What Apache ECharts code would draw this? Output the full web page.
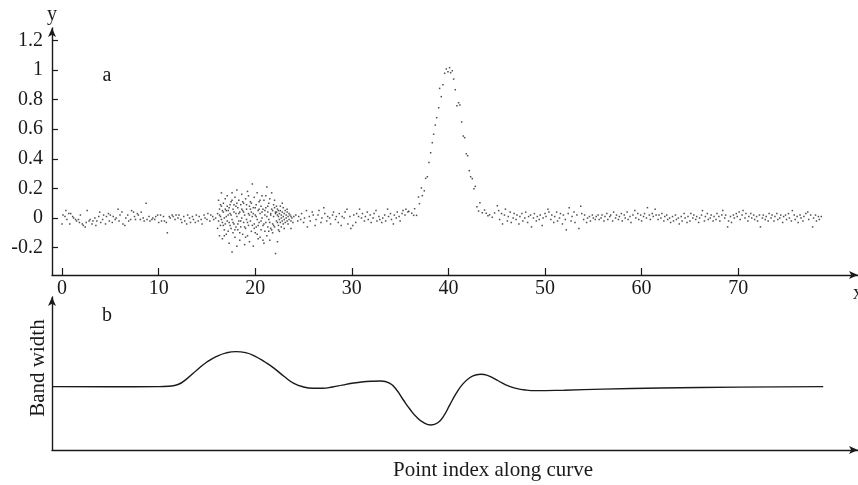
<!DOCTYPE html>
<html>
<head>
<meta charset="utf-8">
<script src="https://cdn.jsdelivr.net/npm/echarts@6/dist/echarts.min.js"></script>
<style>
  html, body { margin: 0; padding: 0; background: #fff; }
  #chart { width: 858px; height: 485px; }
</style>
</head>
<body>
<div id="chart"></div>
<script>
// Sampled points along the curve: [point index, y]
const flatLeft = [
  [0.0,-0.04],[0.1,0.02],[0.3,0.01],[0.4,0.05],[0.5,-0.01],[0.7,0.03],[0.8,-0.04],[0.9,0.03],[1.1,0.01],[1.2,0.00],
  [1.4,-0.01],[1.5,-0.02],[1.7,-0.01],[1.8,-0.03],[1.9,0.02],[2.1,-0.04],[2.2,-0.05],[2.4,-0.06],[2.5,-0.03],[2.6,0.05],
  [2.8,-0.02],[2.9,-0.01],[3.1,-0.04],[3.2,-0.02],[3.4,0.00],[3.5,-0.05],[3.6,-0.02],[3.8,0.01],[3.9,0.04],[4.0,-0.03],
  [4.2,-0.01],[4.3,0.02],[4.5,-0.04],[4.6,0.01],[4.8,0.03],[4.9,-0.02],[5.0,0.02],[5.2,-0.03],[5.3,0.01],[5.5,-0.01],
  [5.6,0.00],[5.8,0.06],[5.9,-0.02],[6.0,0.02],[6.2,0.04],[6.3,-0.04],[6.5,-0.05],[6.6,0.00],[6.8,0.02],[6.9,-0.02],
  [7.1,-0.01],[7.2,0.05],[7.4,0.04],[7.5,0.01],[7.6,-0.01],[7.8,0.03],[7.9,0.02],[8.1,-0.01],[8.2,0.04],[8.4,0.00],
  [8.5,-0.02],[8.7,0.10],[8.8,-0.01],[9.0,0.01],[9.1,-0.02],[9.3,-0.01],[9.4,0.00],[9.6,-0.01],[9.7,0.01],[9.9,0.02],
  [10.0,-0.03],[10.2,0.02],[10.3,-0.02],[10.5,0.01],[10.6,-0.02],[10.8,-0.03],[10.9,-0.10],[11.1,0.01],[11.2,0.00],[11.4,0.02],
  [11.5,0.01],[11.7,-0.01],[11.8,0.02],[12.0,0.00],[12.1,0.02],[12.3,-0.01],[12.4,-0.03],[12.6,0.01],[12.7,-0.02],[12.9,-0.04],
  [13.0,0.02],[13.2,0.00],[13.3,-0.03],[13.5,0.01],[13.6,-0.01],[13.8,-0.03],[13.9,0.02],[14.1,-0.02],[14.2,0.01],[14.4,-0.01],
  [14.5,-0.04],[14.7,0.02],[14.8,0.00],[15.0,-0.01],[15.1,0.03],[15.3,-0.02],[15.4,0.02],[15.6,0.01],[15.7,-0.01],[15.9,0.00]
];

const cloudWide = [
  [16.1,0.03],[16.1,-0.07],[16.2,0.12],[16.2,-0.02],[16.3,0.06],[16.3,-0.12],[16.4,0.01],[16.4,-0.05],[16.5,0.17],[16.5,0.08],
  [16.6,-0.03],[16.6,-0.14],[16.7,0.04],[16.7,0.10],[16.8,-0.08],[16.8,0.00],[16.9,0.13],[16.9,-0.04],[17.0,0.05],[17.0,-0.11],
  [17.1,-0.02],[17.1,0.15],[17.2,0.02],[17.2,-0.09],[17.3,0.07],[17.3,-0.17],[17.4,0.03],[17.4,-0.05],[17.5,0.11],[17.5,-0.07],
  [17.6,0.17],[17.6,-0.01],[17.6,-0.23],[17.7,0.06],[17.7,-0.10],[17.8,0.09],[17.8,-0.04],[17.9,-0.13],[17.9,0.14],[18.0,0.03],
  [18.0,-0.06],[18.1,0.19],[18.1,-0.19],[18.1,0.01],[18.2,-0.08],[18.2,0.07],[18.3,0.12],[18.3,-0.02],[18.4,-0.15],[18.4,0.04],
  [18.5,0.09],[18.5,-0.06],[18.6,0.00],[18.6,0.16],[18.7,-0.11],[18.7,0.05],[18.8,-0.03],[18.8,0.10],[18.9,-0.18],[18.9,0.02],
  [19.0,0.13],[19.0,-0.07],[19.1,0.06],[19.1,-0.01],[19.2,-0.12],[19.2,0.18],[19.3,0.03],[19.3,-0.05],[19.4,0.08],[19.4,-0.16],
  [19.5,0.11],[19.5,-0.02],[19.6,0.04],[19.6,-0.09],[19.7,0.23],[19.7,0.01],[19.8,-0.19],[19.8,0.07],[19.9,-0.04],[19.9,0.14],
  [20.0,0.02],[20.0,-0.10],[20.1,0.09],[20.1,-0.06],[20.2,0.17],[20.2,-0.01],[20.3,-0.14],[20.3,0.05],[20.4,0.11],[20.4,-0.03],
  [20.5,-0.13],[20.5,0.03],[20.6,0.08],[20.6,-0.08],[20.7,0.15],[20.7,0.00],[20.8,-0.05],[20.8,0.06],[20.9,-0.17],[20.9,0.12],
  [21.0,0.02],[21.0,-0.09],[21.1,0.07],[21.1,-0.03],[21.2,0.21],[21.2,-0.12],[21.3,0.04],[21.3,-0.06],[21.4,0.10],[21.4,-0.01],
  [21.5,-0.15],[21.5,0.13],[21.6,0.03],[21.6,-0.07],[21.7,0.17],[21.7,0.06],[21.8,-0.04],[21.8,-0.10],[21.9,0.09],[21.9,0.01],
  [22.0,-0.06],[22.0,0.12],[22.1,-0.24],[22.1,0.04],[22.2,-0.02],[22.2,0.08],[22.3,-0.16],[22.3,0.02],[22.4,0.05],[22.4,-0.08]
];

const cloudCore = [
  [16.3,0.02],[16.5,-0.01],[16.7,-0.05],[16.9,0.06],[17.0,0.01],[17.2,0.05],[17.4,0.09],[17.5,0.02],[17.7,-0.03],[17.8,0.04],
  [18.0,0.08],[18.2,-0.04],[18.3,0.03],[18.5,-0.02],[18.6,0.06],[18.8,0.04],[18.9,-0.06],[19.1,0.09],[19.2,-0.03],[19.4,0.02],
  [19.5,0.06],[19.7,-0.05],[19.8,0.03],[20.0,0.07],[20.1,0.01],[20.3,-0.05],[20.4,0.06],[20.6,-0.02],[20.7,0.04],[20.9,-0.04],
  [21.0,0.05],[21.2,0.01],[21.3,0.08],[21.5,-0.03],[21.6,0.02],[21.8,0.05],[21.9,-0.05],[22.1,0.03],
  [16.4,0.09],[16.6,0.05],[16.8,-0.12],[17.1,0.08],[17.3,-0.03],[17.6,0.12],[17.9,-0.08],[18.1,0.10],[18.4,-0.10],[18.7,0.11],
  [19.0,-0.13],[19.3,0.15],[19.6,0.10],[19.9,-0.07],[20.2,-0.11],[20.5,0.12],[20.8,-0.15],[21.1,0.15],[21.4,-0.09],[21.7,-0.08],[22.0,0.07]
];

const cloudTail = [
  [22.2,0.04],[22.3,-0.03],[22.3,0.06],[22.4,0.01],[22.4,-0.05],[22.5,0.03],[22.5,-0.01],[22.6,0.05],[22.6,-0.03],[22.7,0.02],
  [22.7,0.00],[22.7,-0.06],[22.8,0.04],[22.8,-0.02],[22.9,0.07],[22.9,0.01],[22.9,-0.04],[23.0,0.03],[23.0,-0.01],[23.1,0.05],
  [23.1,-0.03],[23.2,0.02],[23.2,0.00],[23.3,-0.02],[23.3,0.04],[23.4,0.01],[23.4,-0.04],[23.5,0.03],[23.5,-0.01],[23.6,0.02],
  [23.7,-0.02],[23.7,0.01],[23.8,0.00],[23.9,-0.03],[24.0,0.01],[22.6,0.08],[23.0,-0.07],[22.8,0.10],[23.3,0.06],[22.5,-0.09],
  [23.7,-0.07]
];

const flatMiddle = [
  [24.2,0.02],[24.4,-0.02],[24.5,0.01],[24.7,-0.01],[24.8,0.03],[25.0,-0.03],[25.1,0.00],[25.3,0.05],[25.4,-0.06],[25.6,0.01],
  [25.7,-0.02],[25.9,0.04],[26.0,0.02],[26.2,-0.05],[26.3,-0.01],[26.5,0.02],[26.6,0.05],[26.8,-0.03],[26.9,0.00],[27.1,0.07],
  [27.2,0.03],[27.4,-0.02],[27.5,0.01],[27.7,0.00],[27.8,-0.04],[28.0,0.02],[28.1,0.04],[28.3,-0.01],[28.4,0.01],[28.6,-0.03],
  [28.7,0.03],[28.9,-0.05],[29.0,0.01],[29.2,0.00],[29.3,0.04],[29.5,0.06],[29.6,-0.04],[29.8,0.01],[29.9,-0.07],[30.1,-0.05],
  [30.2,0.02],[30.4,-0.03],[30.5,0.03],[30.7,0.01],[30.8,0.06],[31.0,0.00],[31.1,0.03],[31.3,-0.02],[31.4,0.01],[31.6,0.04],
  [31.7,-0.01],[31.9,0.02],[32.0,-0.03],[32.2,0.00],[32.3,0.03],[32.5,0.05],[32.6,-0.02],[32.8,0.01],[32.9,-0.01],[33.1,-0.03],
  [33.2,0.00],[33.4,0.02],[33.5,-0.02],[33.7,0.06],[33.8,0.01],[34.0,0.03],[34.1,-0.01],[34.3,-0.04],[34.4,0.02],[34.6,0.00],
  [34.7,0.04],[34.9,0.01],[35.0,-0.02],[35.2,0.03],[35.3,0.05],[35.5,0.02],[35.6,0.06],[35.8,0.04]
];

const peak = [
  [35.9,0.045],[36.2,0.032],[36.4,0.018],[36.5,0.063],[36.7,0.018],[36.9,0.142],[37.0,0.097],[37.2,0.203],[37.3,0.151],[37.5,0.184],
  [37.64,0.268],[37.82,0.279],[37.98,0.376],[38.16,0.441],[38.33,0.509],[38.47,0.566],[38.64,0.628],[38.78,0.678],[38.99,0.745],[39.09,0.876],
  [39.26,0.820],[39.43,0.901],[39.61,0.978],[39.78,1.007],[39.95,0.989],[40.12,1.016],[40.23,0.982],[40.40,0.995],[40.54,0.939],[40.71,0.867],
  [40.88,0.759],[41.05,0.779],[41.19,0.764],[41.37,0.649],[41.54,0.554],[41.68,0.543],[41.85,0.434],[41.99,0.421],[42.16,0.320],[42.30,0.279],
  [42.47,0.266],[42.64,0.198],[42.78,0.214],[42.95,0.076],[43.12,0.047],[43.26,0.103],[43.50,0.036],[43.74,0.054],[43.91,0.032],[44.09,0.016],
  [44.26,0.022],[44.54,0.005],[44.78,0.034],[45.06,0.083]
];

const flatRight = [
  [45.2,0.05],[45.3,-0.01],[45.5,0.03],[45.6,-0.04],[45.8,0.02],[45.9,0.06],[46.1,-0.02],[46.2,0.01],[46.4,0.04],[46.5,-0.03],
  [46.7,0.00],[46.8,0.03],[47.0,-0.01],[47.1,0.02],[47.3,-0.04],[47.4,0.01],[47.6,0.03],[47.7,-0.02],[47.9,0.00],[48.0,0.04],
  [48.2,-0.03],[48.3,0.01],[48.5,0.02],[48.6,-0.06],[48.8,0.00],[48.9,0.03],[49.1,-0.02],[49.2,0.01],[49.4,-0.01],[49.5,0.02],
  [49.7,-0.05],[49.8,0.00],[50.0,0.03],[50.1,0.01],[50.3,0.06],[50.4,0.04],[50.6,-0.01],[50.7,0.02],[50.9,-0.03],[51.0,0.01],
  [51.2,0.04],[51.3,-0.02],[51.5,0.00],[51.6,0.03],[51.8,-0.04],[51.9,0.02],[52.1,-0.01],[52.2,-0.08],[52.4,0.03],[52.5,0.07],
  [52.7,-0.02],[52.8,0.01],[53.0,0.04],[53.1,-0.03],[53.3,0.02],[53.5,-0.07],[53.7,0.08],[53.8,0.03],[54.0,-0.01],[54.1,0.02],
  [54.3,-0.03],[54.4,0.00],[54.6,0.01],[54.7,-0.02],[54.9,0.02],[55.0,0.00],[55.2,-0.01],[55.3,0.01],[55.5,0.02],[55.6,-0.01],
  [55.8,0.00],[55.9,0.02],[56.1,-0.02],[56.2,0.01],[56.4,0.03],[56.5,-0.01],[56.7,0.01],[56.8,0.02],[57.0,-0.02],[57.1,0.04],
  [57.3,0.00],[57.4,0.02],[57.6,-0.01],[57.7,0.01],[57.9,0.03],[58.0,-0.02],[58.2,0.02],[58.3,0.00],[58.5,0.04],[58.6,-0.01],
  [58.8,0.01],[58.9,-0.03],[59.1,0.02],[59.3,0.05],[59.4,0.00],[59.6,0.03],[59.7,-0.01],[59.9,0.02],[60.0,-0.02],[60.2,0.01],
  [60.3,0.03],[60.5,0.00],[60.6,0.07],[60.8,0.02],[60.9,-0.01],[61.1,0.03],[61.2,0.01],[61.4,0.06],[61.5,0.02],[61.7,-0.01],
  [61.8,0.02],[62.0,0.00],[62.1,0.03],[62.3,-0.02],[62.4,0.01],[62.6,0.02],[62.7,-0.01],[62.9,0.00],[63.0,-0.03],[63.2,0.01],
  [63.3,-0.02],[63.5,0.02],[63.6,-0.01],[63.8,0.00],[63.9,-0.04],[64.1,0.01],[64.2,-0.02],[64.4,0.03],[64.5,0.00],[64.7,-0.03],
  [64.8,0.01],[65.0,-0.02],[65.1,0.03],[65.3,0.00],[65.4,0.02],[65.6,-0.01],[65.7,0.01],[65.9,-0.03],[66.0,0.00],[66.2,0.02],
  [66.3,0.05],[66.5,-0.02],[66.6,0.01],[66.8,0.03],[66.9,-0.01],[67.1,0.00],[67.2,0.02],[67.4,-0.02],[67.5,0.01],[67.7,-0.01],
  [67.8,0.03],[68.0,0.01],[68.1,-0.02],[68.3,0.02],[68.4,0.05],[68.6,0.00],[68.7,0.02],[68.9,-0.06],[69.0,-0.02],[69.2,0.01],
  [69.3,-0.03],[69.5,0.02],[69.6,0.00],[69.8,0.03],[69.9,0.01],[70.1,0.04],[70.2,-0.01],[70.4,0.02],[70.5,0.05],[70.7,0.00],
  [70.8,0.03],[71.0,-0.02],[71.1,0.01],[71.3,0.03],[71.4,0.00],[71.6,0.02],[71.7,-0.01],[71.9,0.01],[72.0,-0.02],[72.2,0.02],
  [72.3,-0.06],[72.5,0.00],[72.6,0.02],[72.8,-0.01],[72.9,0.01],[73.1,-0.02],[73.2,0.03],[73.4,0.00],[73.5,0.02],[73.7,-0.02],
  [73.8,0.01],[74.0,0.03],[74.1,-0.01],[74.3,0.00],[74.4,0.02],[74.6,-0.03],[74.7,0.01],[74.9,0.02],[75.0,-0.01],[75.2,0.03],
  [75.3,0.00],[75.5,-0.02],[75.6,0.05],[75.8,0.02],[75.9,-0.01],[76.1,0.01],[76.2,-0.03],[76.4,0.02],[76.5,0.00],[76.7,-0.02],
  [76.8,0.01],[77.0,0.03],[77.2,0.04],[77.3,-0.01],[77.5,0.02],[77.7,-0.06],[77.8,0.00],[78.0,0.02],[78.1,-0.02],[78.3,0.01],
  [78.4,-0.01],[78.6,0.01]
];

// Band width along the curve
const bandIndex = [-1.0, 5, 10, 11, 12, 13, 14, 15, 16, 17, 18, 19, 20, 21, 22, 23, 24, 25, 26, 27, 28, 29, 30, 31, 32, 33,
  33.9, 34.6, 35.3, 36.0, 36.7, 37.4, 38.2, 38.9, 39.5, 40.1, 40.8, 41.5, 42.2, 42.8, 43.4, 44.1, 44.8, 45.5, 46.2, 47.0,
  48.0, 49.0, 52.0, 56, 62, 70, 78.8];
const bandWidth = [0.414, 0.413, 0.414, 0.417, 0.428, 0.47, 0.525, 0.575, 0.612, 0.635, 0.643, 0.636, 0.612, 0.575, 0.532, 0.48,
  0.436, 0.412, 0.404, 0.404, 0.412, 0.424, 0.436, 0.444, 0.449, 0.451,
  0.437, 0.395, 0.33, 0.268, 0.215, 0.18, 0.163, 0.178, 0.222, 0.29, 0.37, 0.432, 0.472, 0.49, 0.495, 0.486, 0.465, 0.44, 0.419, 0.403,
  0.392, 0.388, 0.391, 0.398, 0.405, 0.411, 0.414];

// Tick values shown on the upper panel
const xTicks = [0, 10, 20, 30, 40, 50, 60, 70];
const yTicks = [-0.2, 0, 0.2, 0.4, 0.6, 0.8, 1, 1.2];

const FONT = '"Liberation Serif", "Times New Roman", serif';
const INK = '#1a1a1a';

const points = [].concat(flatLeft, cloudWide, cloudCore, cloudTail, flatMiddle, peak, flatRight);
const bandLine = bandIndex.map((x, i) => [x, bandWidth[i]]);

const axisLineStyle = { color: INK, width: 1.4 };

const chart = echarts.init(document.getElementById('chart'), null, { renderer: 'canvas' });
chart.setOption({
  animation: false,
  backgroundColor: '#fff',
  grid: [
    { left: 52, right: 0, top: 28, bottom: 210 },
    { left: 52, right: 0, top: 297, bottom: 35 }
  ],
  xAxis: [
    {
      gridIndex: 0, type: 'value', min: -1.04, max: 82.4,
      axisLine: { onZero: false, lineStyle: axisLineStyle, symbol: ['none', 'arrow'], symbolSize: [6, 9] },
      axisTick: { inside: true, length: 7, lineStyle: { color: INK, width: 1.2 }, customValues: xTicks },
      axisLabel: { customValues: xTicks, color: INK, fontFamily: FONT, fontSize: 20, margin: 4 },
      splitLine: { show: false }
    },
    {
      gridIndex: 1, type: 'value', min: -1.04, max: 82.4,
      axisLine: { onZero: false, lineStyle: axisLineStyle, symbol: ['none', 'arrow'], symbolSize: [6, 9] },
      axisTick: { show: false }, axisLabel: { show: false }, splitLine: { show: false }
    }
  ],
  yAxis: [
    {
      gridIndex: 0, type: 'value', min: -0.385, max: 1.284,
      axisLine: { show: true, onZero: false, lineStyle: axisLineStyle, symbol: ['none', 'arrow'], symbolSize: [6, 9] },
      axisTick: { show: true, inside: true, length: 6, lineStyle: { color: INK, width: 1.2 }, customValues: yTicks },
      axisLabel: { customValues: yTicks, color: INK, fontFamily: FONT, fontSize: 20, margin: 9 },
      splitLine: { show: false }
    },
    {
      gridIndex: 1, type: 'value', min: 0, max: 1,
      axisLine: { show: true, onZero: false, lineStyle: axisLineStyle, symbol: ['none', 'arrow'], symbolSize: [6, 9] },
      axisTick: { show: false }, axisLabel: { show: false }, splitLine: { show: false }
    }
  ],
  graphic: [
    { type: 'text', x: 52, y: 15, style: { text: 'y', font: '20px ' + FONT, fill: INK, textAlign: 'center', textVerticalAlign: 'middle' } },
    { type: 'text', x: 853, y: 294, style: { text: 'x', font: '20px ' + FONT, fill: INK, textAlign: 'left', textVerticalAlign: 'middle' } },
    { type: 'text', x: 107, y: 76, style: { text: 'a', font: '20px ' + FONT, fill: INK, textAlign: 'center', textVerticalAlign: 'middle' } },
    { type: 'text', x: 107, y: 316, style: { text: 'b', font: '20px ' + FONT, fill: INK, textAlign: 'center', textVerticalAlign: 'middle' } },
    { type: 'text', x: 38, y: 368, rotation: Math.PI / 2, style: { text: 'Band width', font: '21px ' + FONT, fill: INK, textAlign: 'center', textVerticalAlign: 'middle' } },
    { type: 'text', x: 493, y: 470, style: { text: 'Point index along curve', font: '21px ' + FONT, fill: INK, textAlign: 'center', textVerticalAlign: 'middle' } }
  ],
  series: [
    {
      type: 'scatter', xAxisIndex: 0, yAxisIndex: 0,
      data: points, symbol: 'rect', symbolSize: 1.5,
      itemStyle: { color: '#222' }, silent: true
    },
    {
      type: 'line', xAxisIndex: 1, yAxisIndex: 1,
      data: bandLine, smooth: 0.5, showSymbol: false,
      lineStyle: { color: INK, width: 1.4 }, silent: true
    }
  ]
});
</script>
</body>
</html>
